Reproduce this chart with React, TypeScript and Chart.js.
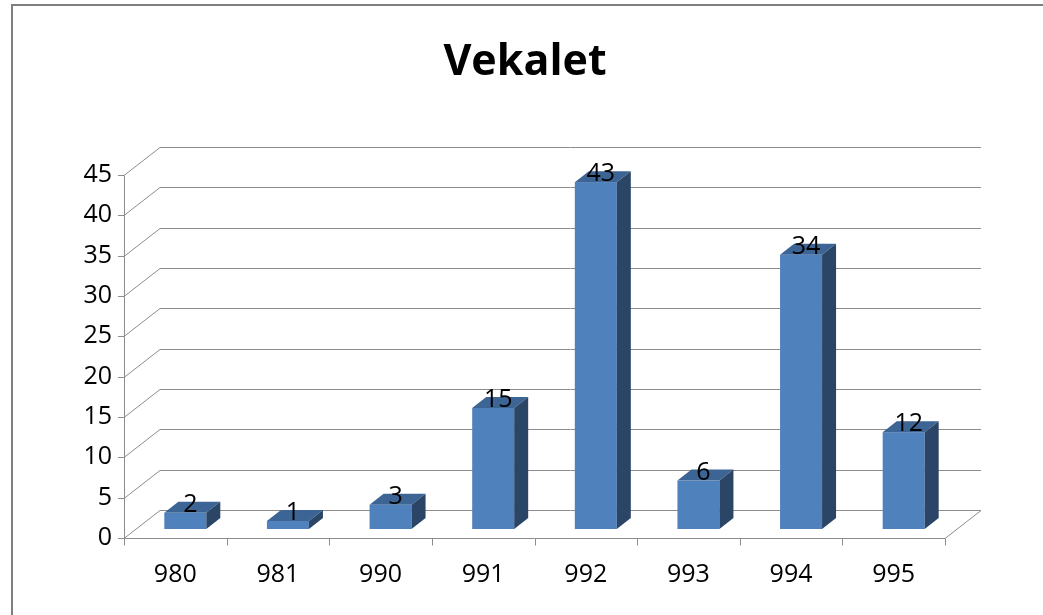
import React, { useEffect, useRef } from "react";
import { Chart, registerables } from "chart.js";

Chart.register(...registerables);

const TITLE = "Vekalet";
const CATEGORIES = ["980", "981", "990", "991", "992", "993", "994", "995"];
const VALUES = [2, 1, 3, 15, 43, 6, 34, 12];
const Y_MIN = 0;
const Y_MAX = 45;
const Y_STEP = 5;

const FONT = "'Open Sans', 'DejaVu Sans', sans-serif";

// 3D geometry (pixels)
const WALL_DX = 36;
const WALL_DY = -28;
const BAR_OX = 10;
const BAR_OY = -9;
const BAR_DX = 14;
const BAR_DY = -11;

const COLOR_FRONT = "#4F81BD";
const COLOR_TOP = "#3C6494";
const COLOR_SIDE = "#2B4567";
const GRID = "#8C8C8C";

const threeD = {
  id: "threeD",
  beforeDatasetsDraw(chart: any) {
    const ctx = chart.ctx;
    const { left, right } = chart.chartArea;
    const y = chart.scales.y;
    ctx.save();
    ctx.strokeStyle = GRID;
    ctx.lineWidth = 1;
    for (let v = Y_MIN; v <= Y_MAX; v += Y_STEP) {
      const py = Math.round(y.getPixelForValue(v)) + 0.5;
      ctx.beginPath();
      ctx.moveTo(left, py);
      ctx.lineTo(left + WALL_DX, py + WALL_DY);
      ctx.lineTo(right + WALL_DX, py + WALL_DY);
      ctx.stroke();
      ctx.beginPath();
      ctx.moveTo(left - 6, py);
      ctx.lineTo(left, py);
      ctx.stroke();
    }
    const y0 = Math.round(y.getPixelForValue(0)) + 0.5;
    const yTop = Math.round(y.getPixelForValue(Y_MAX)) + 0.5;
    ctx.beginPath();
    ctx.moveTo(left + 0.5, y0);
    ctx.lineTo(left + 0.5, yTop);
    ctx.stroke();
    ctx.beginPath();
    ctx.moveTo(left, y0);
    ctx.lineTo(right, y0);
    ctx.lineTo(right + WALL_DX, y0 + WALL_DY);
    ctx.stroke();
    const n = CATEGORIES.length;
    for (let i = 0; i <= n; i++) {
      const px = Math.round(left + ((right - left) * i) / n) + 0.5;
      ctx.beginPath();
      ctx.moveTo(px, y0);
      ctx.lineTo(px, y0 + 7);
      ctx.stroke();
    }
    ctx.restore();
  },
  afterDatasetsDraw(chart: any) {
    const ctx = chart.ctx;
    const meta = chart.getDatasetMeta(0);
    ctx.save();
    meta.data.forEach((bar: any, i: number) => {
      const w = bar.width;
      const x1 = bar.x - w / 2 + BAR_OX;
      const x2 = bar.x + w / 2 + BAR_OX;
      const yt = bar.y + BAR_OY;
      const yb = bar.base + BAR_OY;
      ctx.fillStyle = COLOR_FRONT;
      ctx.fillRect(x1, yt, x2 - x1, yb - yt);
      ctx.fillStyle = COLOR_TOP;
      ctx.beginPath();
      ctx.moveTo(x1, yt);
      ctx.lineTo(x2, yt);
      ctx.lineTo(x2 + BAR_DX, yt + BAR_DY);
      ctx.lineTo(x1 + BAR_DX, yt + BAR_DY);
      ctx.closePath();
      ctx.fill();
      ctx.fillStyle = COLOR_SIDE;
      ctx.beginPath();
      ctx.moveTo(x2, yt);
      ctx.lineTo(x2 + BAR_DX, yt + BAR_DY);
      ctx.lineTo(x2 + BAR_DX, yb + BAR_DY);
      ctx.lineTo(x2, yb);
      ctx.closePath();
      ctx.fill();
      ctx.fillStyle = "#000";
      ctx.font = `25px ${FONT}`;
      ctx.textAlign = "center";
      ctx.textBaseline = "middle";
      ctx.fillText(String(VALUES[i]), bar.x + BAR_OX + 5, yt - 8);
    });
    ctx.restore();
  },
  afterDraw(chart: any) {
    const ctx = chart.ctx;
    ctx.save();
    ctx.strokeStyle = "#7F7F7F";
    ctx.lineWidth = 2;
    ctx.beginPath();
    ctx.moveTo(12, chart.height + 5);
    ctx.lineTo(12, 5);
    ctx.lineTo(chart.width + 5, 5);
    ctx.stroke();
    ctx.restore();
  },
};

export default function App() {
  const ref = useRef<HTMLCanvasElement | null>(null);
  useEffect(() => {
    document.body.style.margin = "0";
    const canvas = ref.current;
    if (!canvas) return;
    const chart = new Chart(canvas, {
      type: "bar",
      data: {
        labels: CATEGORIES,
        datasets: [
          {
            label: TITLE,
            data: VALUES,
            backgroundColor: "rgba(0,0,0,0)",
            borderWidth: 0,
            barThickness: 42,
            yAxisID: "y",
          },
        ],
      },
      options: {
        animation: false,
        responsive: false,
        maintainAspectRatio: false,
        layout: { padding: { left: 7, right: 0, top: 0, bottom: 0 } },
        plugins: {
          legend: { display: false },
          tooltip: { enabled: false },
          title: {
            display: true,
            text: TITLE,
            color: "#000",
            font: { family: FONT, size: 43, weight: "bold", lineHeight: 1.2 },
            padding: { top: 37, bottom: 175 - 37 - 43 * 1.2 },
          },
        },
        scales: {
          x: {
            grid: { display: false, drawTicks: false },
            border: { display: false },
            ticks: { color: "#000", font: { family: FONT, size: 25 }, padding: 22 },
            afterFit: (s: any) => {
              s.height = 615 - 538;
            },
          },
          y: {
            position: "left",
            min: Y_MIN,
            max: Y_MAX,
            grid: { display: false, drawTicks: false },
            border: { display: false },
            ticks: {
              stepSize: Y_STEP,
              color: "#000",
              font: { family: FONT, size: 25 },
              padding: 12,
            },
            afterFit: (s: any) => {
              s.width = 117;
            },
          },
          yR: {
            position: "right",
            display: true,
            min: Y_MIN,
            max: Y_MAX,
            grid: { display: false, drawTicks: false },
            border: { display: false },
            ticks: { display: false },
            afterFit: (s: any) => {
              s.width = 98;
            },
          },
        },
      },
      plugins: [threeD],
    });
    return () => chart.destroy();
  }, []);
  return (
    <div style={{ width: 1043, height: 615, background: "#fff" }}>
      <canvas ref={ref} width={1043} height={615} style={{ display: "block" }} />
    </div>
  );
}
